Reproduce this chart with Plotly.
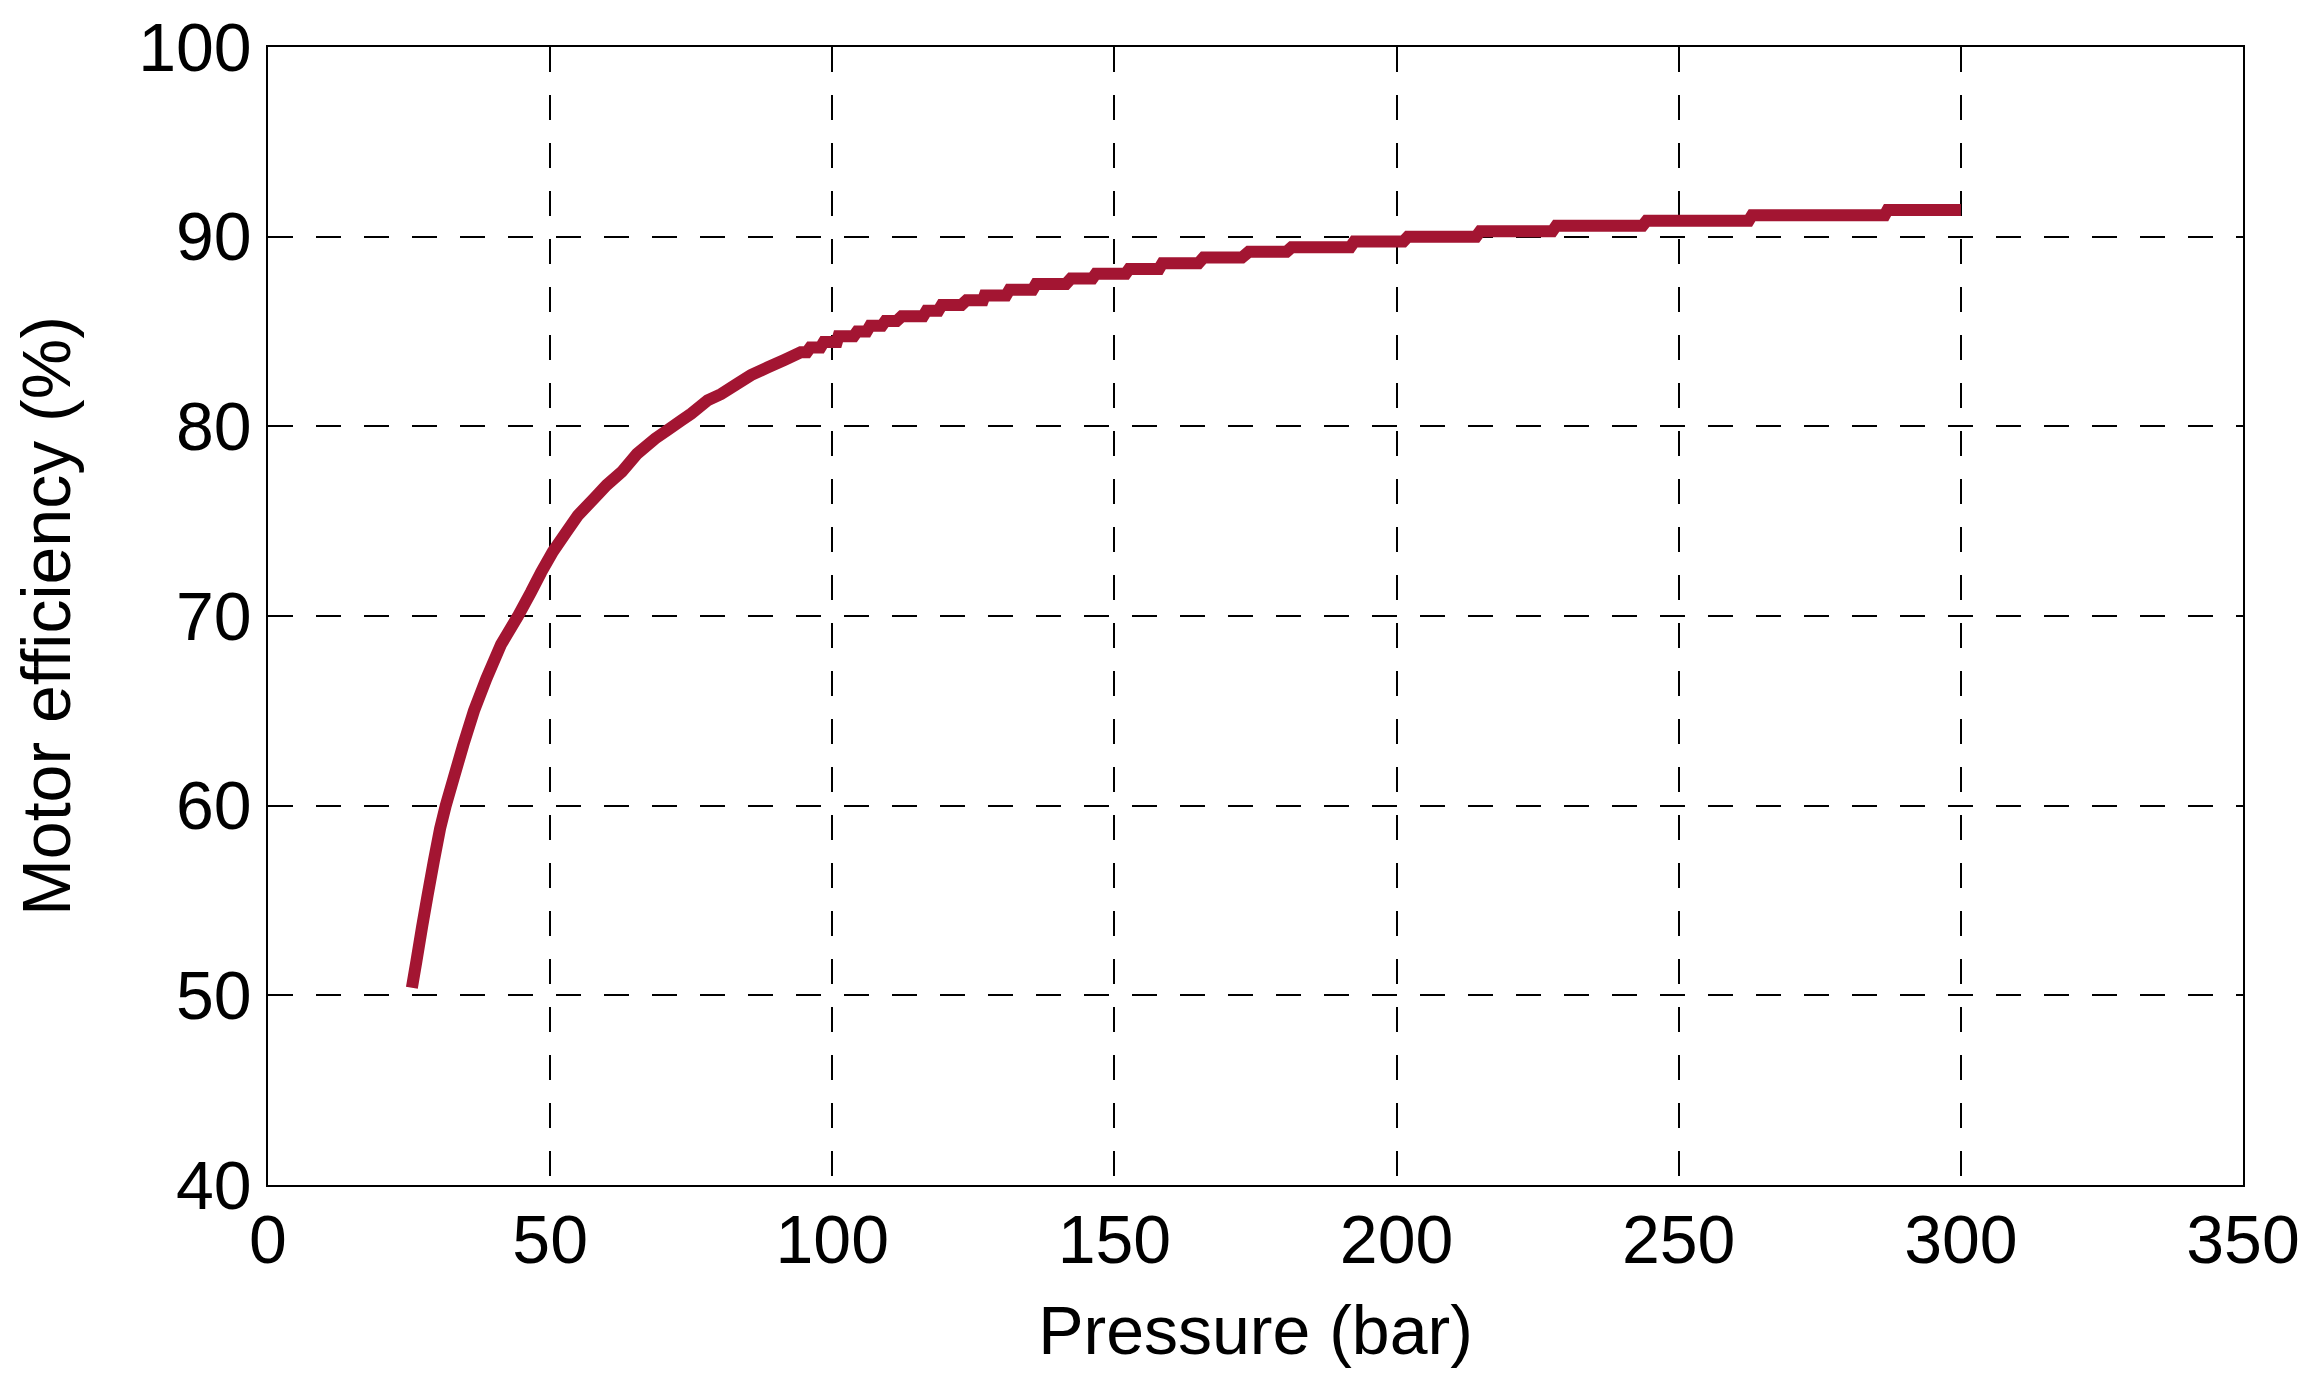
import plotly.graph_objects as go

# Smooth (lower) part of the curve
pressure_low = [25.5, 26.3, 27.3, 28.3, 29.4, 30.5, 31.5, 32.9, 34.6, 36.5, 38.7, 41.3,
                44.3, 46.6, 48.4, 50.5, 52.8, 54.9, 57.8, 60.0, 62.7, 65.4, 68.6, 70.8,
                73.2, 75.0, 77.9, 80.3, 83.2, 85.6, 88.5, 91.5]
efficiency_low = [50.4, 51.8, 53.6, 55.3, 57.1, 58.8, 60.0, 61.45, 63.2, 65.0, 66.7, 68.5,
                  70.0, 71.26, 72.3, 73.4, 74.4, 75.3, 76.2, 76.9, 77.6, 78.55, 79.35, 79.8,
                  80.3, 80.67, 81.37, 81.7, 82.25, 82.7, 83.1, 83.5]

# Stepped (upper) part: each plateau start, end and level
step_start = [94.4, 96.1, 98.5, 101.1, 104.4, 106.7, 109.4, 112.3, 116.7, 119.4, 123.8,
              127.0, 131.4, 136.1, 142.3, 146.7, 152.6, 158.5, 165.8, 173.8, 181.4,
              192.5, 202.0, 214.8, 228.3, 244.3, 263.0, 287.0]
step_end = [95.5, 97.9, 100.8, 103.8, 106.1, 108.8, 111.4, 116.1, 118.8, 122.9, 126.7,
            130.8, 135.5, 141.4, 146.1, 152.0, 157.9, 164.9, 172.6, 180.5, 191.8,
            201.2, 214.1, 227.6, 243.6, 262.4, 286.5, 300.0]
step_level = [83.9, 84.15, 84.45, 84.75, 85.0, 85.3, 85.55, 85.8, 86.1, 86.4, 86.65,
              86.9, 87.2, 87.5, 87.8, 88.05, 88.3, 88.6, 88.9, 89.2, 89.44,
              89.74, 90.0, 90.28, 90.58, 90.84, 91.13, 91.4]

x_ticks = [0, 50, 100, 150, 200, 250, 300, 350]
y_ticks = [40, 50, 60, 70, 80, 90, 100]

xs = list(pressure_low)
ys = list(efficiency_low)
for s, e, lv in zip(step_start, step_end, step_level):
    xs += [s, e]
    ys += [lv, lv]

FONT = "Liberation Sans, Arial, sans-serif"

fig = go.Figure()
fig.add_trace(go.Scatter(x=xs, y=ys, mode="lines",
                         line=dict(color="#A31532", width=12, simplify=False),
                         showlegend=False, hoverinfo="skip"))

axis_common = dict(
    showgrid=True, gridcolor="black", gridwidth=1.5, griddash="25px,23px",
    showline=True, linecolor="black", mirror=True,
    ticks="", zeroline=False,
    tickfont=dict(family=FONT, size=68, color="black"),
)

# the page body adds an 8px offset; the figure is sized to compensate
fig.update_layout(
    width=2303, height=1366,
    margin=dict(l=260, r=68, t=39, b=189, autoexpand=False),
    paper_bgcolor="white", plot_bgcolor="white",
    font=dict(family=FONT, color="black"),
    xaxis=dict(range=[0, 350], tickvals=x_ticks, linewidth=2,
               ticklabelstandoff=-6,
               title=dict(text="Pressure (bar)", font=dict(family=FONT, size=68, color="black"),
                          standoff=31),
               **axis_common),
    yaxis=dict(range=[40, 100], tickvals=y_ticks, linewidth=1.5,
               ticklabelstandoff=1,
               title=dict(text="Motor efficiency (%)", font=dict(family=FONT, size=68, color="black"),
                          standoff=53),
               **axis_common),
)

fig.write_html("out.html")
